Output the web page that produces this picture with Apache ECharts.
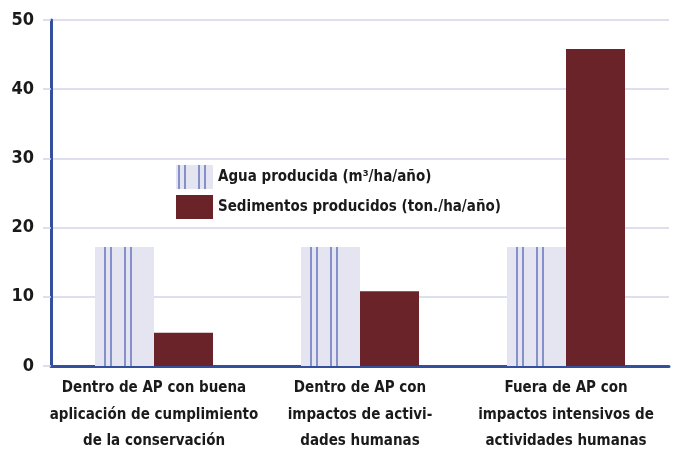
<!DOCTYPE html>
<html>
<head>
<meta charset="utf-8">
<script src="https://cdn.jsdelivr.net/npm/echarts@6/dist/echarts.min.js"></script>
<style>
  html, body { margin: 0; padding: 0; background: #fff; }
  #chart { width: 673px; height: 452px; }
</style>
</head>
<body>
<div id="chart"></div>
<script>
const categories = [
  'Dentro de AP con buena\naplicación de cumplimiento\nde la conservación',
  'Dentro de AP con\nimpactos de activi-\ndades humanas',
  'Fuera de AP con\nimpactos intensivos de\nactividades humanas'
];
const aguaValues = [17.2, 17.2, 17.2];
const sedimentosValues = [4.8, 10.8, 45.8];
const seriesNames = ['Agua producida (m³/ha/año)', 'Sedimentos producidos (ton./ha/año)'];

const FONT = '"DejaVu Sans Condensed", sans-serif';

// striped light texture for the water bars (repeats every category width)
function makeStripes() {
  const c = document.createElement('canvas');
  c.width = 206;
  c.height = 8;
  const ctx = c.getContext('2d');
  ctx.fillStyle = '#e5e5f2';
  ctx.fillRect(0, 0, c.width, c.height);
  ctx.fillStyle = '#8590cb';
  [2, 8, 22, 28, 104, 110, 124, 130].forEach(function (x) {
    ctx.fillRect(x, 0, 2, c.height);
  });
  return c;
}

const chart = echarts.init(document.getElementById('chart'));
const stripes = makeStripes();

chart.setOption({
  animation: false,
  textStyle: { fontFamily: FONT },
  grid: { left: 51, right: 4, top: 20, bottom: 86, outerBoundsMode: 'none' },
  legend: {
    orient: 'vertical',
    left: 171,
    top: 160,
    icon: 'rect',
    itemWidth: 37,
    itemHeight: 24,
    itemGap: 6,
    textStyle: { fontFamily: FONT, fontSize: 15, fontWeight: 'bold', color: '#1a1a1a' },
    data: seriesNames
  },
  xAxis: {
    type: 'category',
    data: categories,
    axisLine: { lineStyle: { color: '#34509c', width: 3 } },
    axisTick: { show: false },
    axisLabel: {
      margin: 9,
      fontFamily: FONT,
      fontSize: 15,
      fontWeight: 'bold',
      lineHeight: 26.5,
      color: '#1a1a1a',
      interval: 0
    }
  },
  yAxis: {
    type: 'value',
    min: 0,
    max: 50,
    interval: 10,
    axisLine: { show: true, lineStyle: { color: '#34509c', width: 3 } },
    axisTick: { show: true, length: 8, lineStyle: { color: '#d3d3ea', width: 1.5 } },
    splitLine: { lineStyle: { color: '#d3d3ea', width: 1.5 } },
    axisLabel: {
      margin: 17,
      fontFamily: FONT,
      fontSize: 18,
      fontWeight: 'bold',
      color: '#1a1a1a'
    }
  },
  series: [
    {
      name: seriesNames[0],
      type: 'bar',
      data: aguaValues,
      barWidth: 59,
      barGap: '0%',
      itemStyle: { color: { image: stripes, repeat: 'repeat' } }
    },
    {
      name: seriesNames[1],
      type: 'bar',
      data: sedimentosValues,
      barWidth: 59,
      itemStyle: { color: '#6a2328' }
    }
  ]
});
</script>
</body>
</html>
